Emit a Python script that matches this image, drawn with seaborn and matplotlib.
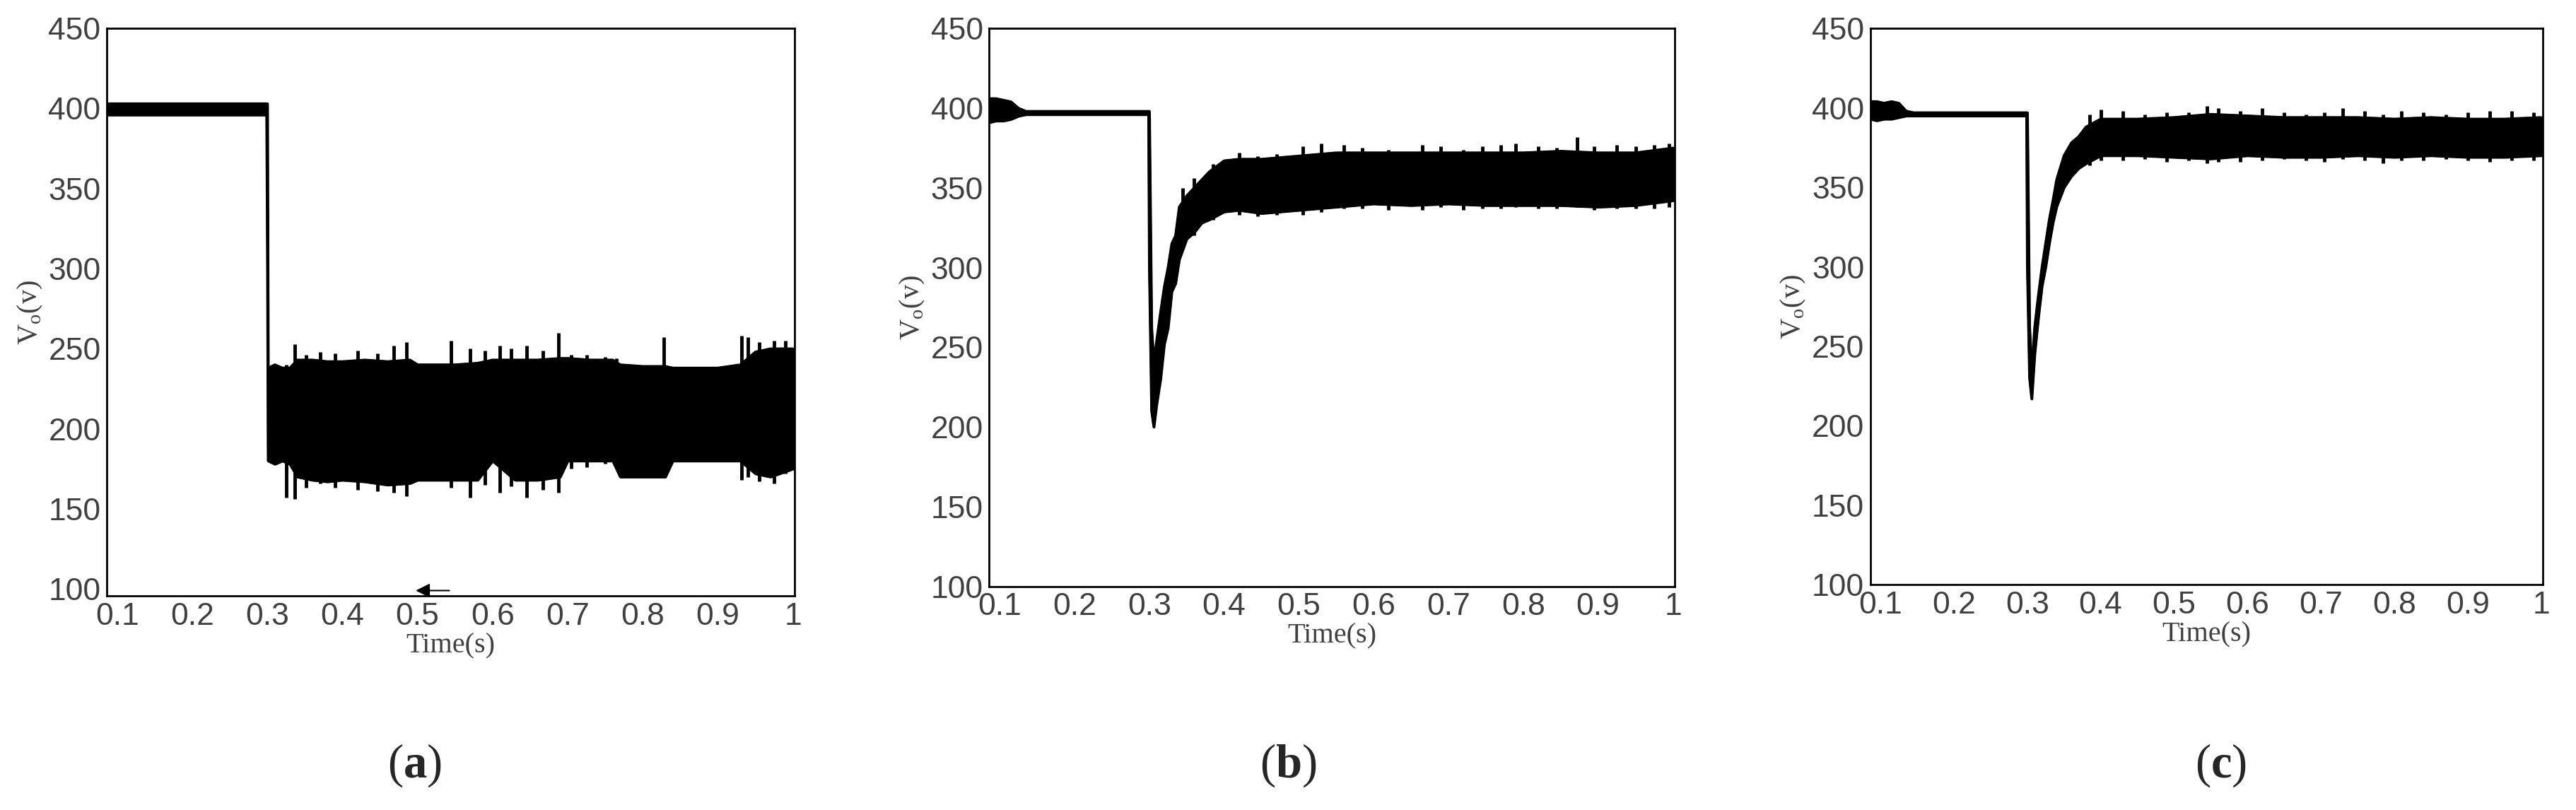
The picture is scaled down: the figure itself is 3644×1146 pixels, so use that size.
import matplotlib
matplotlib.use("Agg")
import matplotlib.pyplot as plt
import seaborn as sns

sns.set_style("white")
plt.rcParams["font.family"] = ["Liberation Sans", "DejaVu Sans"]
plt.rcParams["mathtext.fontset"] = "custom"
plt.rcParams["mathtext.bf"] = "Liberation Serif:bold"
plt.rcParams["mathtext.rm"] = "Liberation Serif"

# envelope of the output voltage band (min / max)
t_a = [0.086, 0.299, 0.300, 0.301, 0.31, 0.32, 0.33, 0.34, 0.36, 0.38, 0.40, 0.43, 0.46, 0.49, 0.50,
       0.52, 0.55, 0.58, 0.60, 0.63, 0.66, 0.69, 0.70, 0.73, 0.76, 0.77, 0.80, 0.83, 0.84, 0.87,
       0.90, 0.93, 0.95, 0.97, 1.0]
lo_a = [396, 396, 310, 180, 178, 180, 178, 170, 168, 167, 168, 167, 165, 166, 168,
        168, 168, 168, 180, 168, 168, 170, 180, 180, 180, 170, 170, 170, 180, 180,
        180, 180, 172, 170, 175]
hi_a = [403, 403, 403, 238, 240, 238, 238, 243, 243, 242, 242, 243, 242, 243, 240,
        240, 240, 241, 243, 243, 243, 244, 244, 243, 243, 240, 239, 239, 238, 238,
        238, 240, 248, 250, 250]
# noise spikes outside the band: (time, top, bottom)
spk_a_t = [0.325, 0.337, 0.352, 0.37, 0.39, 0.42, 0.447, 0.468, 0.485, 0.545, 0.57, 0.59, 0.61,
           0.625, 0.645, 0.667, 0.688, 0.705, 0.725, 0.75, 0.765, 0.828, 0.932, 0.94, 0.955, 0.975, 0.99]
spk_a_hi = [240, 253, 246, 248, 247, 249, 247, 252, 254, 255, 250, 249, 252, 250, 252, 249, 260,
            246, 246, 245, 244, 257, 258, 257, 254, 255, 255]
spk_a_lo = [157, 156, 163, 166, 163, 162, 161, 160, 158, 163, 157, 165, 160, 164, 157, 162, 160,
            175, 176, 178, 178, 170, 168, 170, 167, 166, 172]

t_b = [0.086, 0.095, 0.105, 0.115, 0.125, 0.135, 0.299, 0.300, 0.303, 0.306, 0.31, 0.315, 0.32,
       0.325, 0.33, 0.335, 0.34, 0.35, 0.36, 0.37, 0.38, 0.40, 0.42, 0.45, 0.50, 0.55, 0.60,
       0.65, 0.70, 0.75, 0.80, 0.85, 0.90, 0.95, 1.0]
lo_b = [391, 392, 392, 393, 395, 396, 396, 300, 210, 200, 215, 230, 252, 262, 285, 290, 305, 318,
        322, 328, 330, 335, 336, 334, 336, 338, 340, 339, 340, 339, 339, 339, 338, 339, 342]
hi_b = [406, 406, 405, 404, 400, 398, 398, 398, 262, 240, 255, 272, 288, 300, 315, 320, 338,
        345, 350, 355, 360, 367, 368, 368, 370, 372, 372, 372, 372, 372, 372, 373, 372, 372, 375]
spk_b_t = [0.345, 0.36, 0.385, 0.42, 0.445, 0.47, 0.505, 0.53, 0.56, 0.585, 0.62, 0.665, 0.69,
           0.72, 0.745, 0.77, 0.79, 0.82, 0.845, 0.872, 0.895, 0.925, 0.95, 0.975, 0.995]
spk_b_hi = [350, 356, 365, 372, 370, 371, 376, 378, 377, 375, 374, 377, 376, 374, 376, 377, 378,
            376, 375, 382, 376, 377, 376, 377, 378]
spk_b_lo = [318, 320, 330, 333, 332, 333, 333, 335, 337, 337, 336, 336, 338, 336, 337, 337, 338,
            337, 337, 338, 336, 337, 337, 337, 338]

t_c = [0.086, 0.095, 0.105, 0.115, 0.125, 0.135, 0.145, 0.299, 0.300, 0.303, 0.306, 0.31, 0.315,
       0.32, 0.325, 0.33, 0.335, 0.34, 0.35, 0.36, 0.37, 0.38, 0.40, 0.45, 0.50, 0.55, 0.60,
       0.65, 0.70, 0.75, 0.80, 0.85, 0.90, 0.95, 1.0]
lo_c = [393, 392, 393, 393, 394, 395, 395, 395, 300, 230, 217, 245, 268, 288, 300, 315, 328, 338,
        350, 357, 362, 365, 370, 370, 369, 368, 370, 369, 369, 370, 369, 370, 369, 369, 370]
hi_c = [404, 404, 403, 404, 403, 398, 397, 397, 397, 262, 235, 262, 282, 300, 315, 330, 342, 355,
        370, 378, 382, 388, 393, 393, 394, 396, 395, 394, 394, 394, 393, 394, 393, 393, 394]
spk_c_t = [0.385, 0.40, 0.43, 0.46, 0.49, 0.52, 0.545, 0.56, 0.59, 0.62, 0.65, 0.68, 0.705,
           0.73, 0.76, 0.785, 0.81, 0.84, 0.87, 0.9, 0.93, 0.96, 0.99]
spk_c_hi = [396, 399, 398, 396, 397, 397, 401, 400, 398, 400, 397, 396, 397, 400, 398, 396, 398,
            397, 396, 397, 398, 398, 397]
spk_c_lo = [364, 367, 367, 368, 366, 367, 365, 366, 366, 367, 368, 367, 366, 368, 367, 365, 367,
            367, 368, 367, 366, 367, 367]

panels = [("a", t_a, lo_a, hi_a, spk_a_t, spk_a_lo, spk_a_hi, [0.0414, 0.264, 0.267, 0.701], 95.5),
          ("b", t_b, lo_b, hi_b, spk_b_t, spk_b_lo, spk_b_hi, [0.384, 0.276, 0.266, 0.689], 100),
          ("c", t_c, lo_c, hi_c, spk_c_t, spk_c_lo, spk_c_hi, [0.726, 0.278, 0.261, 0.687], 100)]
label_x = [0.161, 0.50, 0.862]
xticks = [0.1, 0.2, 0.3, 0.4, 0.5, 0.6, 0.7, 0.8, 0.9, 1.0]
xticklabels = ["0.1", "0.2", "0.3", "0.4", "0.5", "0.6", "0.7", "0.8", "0.9", "1"]
yticks = [100, 150, 200, 250, 300, 350, 400, 450]

fig = plt.figure(figsize=(36.44, 11.46), dpi=100)
grey = "#404040"

for i, (name, t, lo, hi, st, slo, shi, rect, ymin) in enumerate(panels):
    ax = fig.add_axes(rect)
    ax.fill_between(t, lo, hi, color="black", linewidth=2.5, edgecolor="black")
    sns.lineplot(x=t, y=lo, ax=ax, color="black", linewidth=2.5, sort=False)
    sns.lineplot(x=t, y=hi, ax=ax, color="black", linewidth=2.5, sort=False)
    ax.vlines(st, slo, shi, color="black", linewidth=3.5)
    if name == "a":
        ax.annotate("", xy=(0.495, 99), xytext=(0.545, 99),
                    arrowprops=dict(arrowstyle="-|>", color="black", lw=1.5, mutation_scale=30))
    ax.set_xlim(0.086, 1.002)
    ax.set_ylim(ymin, 450)
    ax.set_xticks(xticks)
    ax.set_xticklabels(xticklabels)
    ax.set_yticks(yticks)
    ax.tick_params(axis="both", labelsize=32, labelcolor=grey, color="black", direction="in",
                   length=8, width=1.5, pad=6)
    for s in ax.spines.values():
        s.set_color("black")
        s.set_linewidth(2)
    ax.set_xlabel("Time(s)", fontsize=29, family="Liberation Serif", color=grey, labelpad=2)
    ax.set_ylabel(r"V$_\mathregular{o}$(v)", fontsize=29, family="Liberation Serif", color=grey,
                  labelpad=4)
    fig.text(label_x[i], 0.055, "(" + r"$\mathbf{" + name + "}$" + ")", fontsize=48,
             family="Liberation Serif", ha="center", va="center")

fig.savefig("out.png", dpi=100)
